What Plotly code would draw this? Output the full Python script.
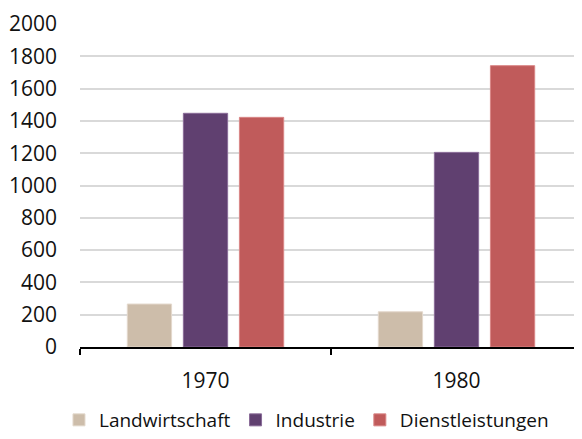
import plotly.graph_objects as go

jahre = ["1970", "1980"]
landwirtschaft = [266, 218]
industrie = [1447, 1205]
dienstleistungen = [1422, 1742]

farben = {"Landwirtschaft": "#cdbdaa", "Industrie": "#604070", "Dienstleistungen": "#c05b5b"}
kanten = {"Landwirtschaft": "#e3d8cc", "Industrie": "#8a6c98", "Dienstleistungen": "#d98787"}

fig = go.Figure()
for name, werte in [("Landwirtschaft", landwirtschaft),
                    ("Industrie", industrie),
                    ("Dienstleistungen", dienstleistungen)]:
    fig.add_trace(go.Bar(x=jahre, y=werte, name=name,
                         marker=dict(color=farben[name],
                                     line=dict(color=kanten[name], width=1))))

# page body has an 8px margin, so the figure is a bit smaller than the window
fig.update_layout(
    width=574, height=431,
    barmode="group", bargap=0.33, bargroupgap=0.21,
    plot_bgcolor="white", paper_bgcolor="white",
    font=dict(family="Open Sans", size=21, color="#111111"),
    margin=dict(l=72, r=0, t=16, b=92, autoexpand=False),
    legend=dict(orientation="h", xref="container", yref="container",
                x=0.52, y=-0.022, xanchor="center", yanchor="bottom",
                font=dict(size=19), itemwidth=30, tracegroupgap=0),
)
fig.update_yaxes(range=[0, 2000], dtick=200, showgrid=True,
                 gridcolor="#d9d9d9", gridwidth=1.5, zeroline=False,
                 showline=False, ticks="", ticklabelstandoff=22)
fig.update_xaxes(showline=True, linecolor="black", linewidth=1.5,
                 ticks="outside", tickson="boundaries", ticklen=6,
                 tickcolor="black", tickwidth=1.5, ticklabelstandoff=14)

fig.write_html("out.html")
